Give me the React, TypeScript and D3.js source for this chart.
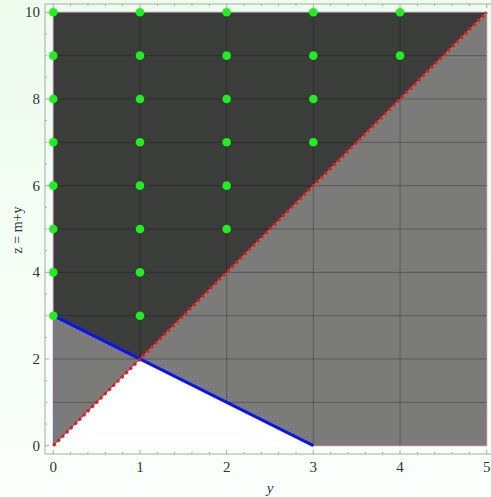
import React from "react";
import * as d3 from "d3";

const yTicks = [0, 1, 2, 3, 4, 5];
const zTicks = [0, 2, 4, 6, 8, 10];
const gridY = [1, 2, 3, 4];
const gridZ = [1, 2, 3, 4, 5, 6, 7, 8, 9];

const pointY = [
  0, 0, 0, 0, 0, 0, 0, 0,
  1, 1, 1, 1, 1, 1, 1, 1,
  2, 2, 2, 2, 2, 2,
  3, 3, 3, 3,
  4, 4,
];
const pointZ = [
  3, 4, 5, 6, 7, 8, 9, 10,
  3, 4, 5, 6, 7, 8, 9, 10,
  5, 6, 7, 8, 9, 10,
  7, 8, 9, 10,
  9, 10,
];

const darkRegion: [number, number][] = [[0, 3], [1, 2], [5, 10], [0, 10]];
const grayLeft: [number, number][] = [[0, 0], [0, 3], [1, 2]];
const grayRight: [number, number][] = [[1, 2], [3, 0], [5, 0], [5, 10]];
const blueLine: [number, number][] = [[0, 3], [3, 0]];
const redLine: [number, number][] = [[0, 0], [5, 10]];

const W = 491;
const H = 497;

export default function App() {
  const x = d3.scaleLinear().domain([0, 5]).range([53.3, 486.7]);
  const z = d3.scaleLinear().domain([0, 10]).range([445.7, 12.3]);
  const line = d3.line<[number, number]>().x((d) => x(d[0])).y((d) => z(d[1]));
  const poly = (p: [number, number][]) => line(p)! + "Z";

  const frameL = 45, frameR = 495, frameT = 4, frameB = 454;
  const xMinor = d3.range(0, 5.001, 0.2).filter((v) => Math.abs(v - Math.round(v)) > 1e-6);
  const zMinor = d3.range(0, 10.001, 0.5).filter((v) => Math.abs(v / 2 - Math.round(v / 2)) > 1e-6);
  const serif = "'Liberation Serif', 'DejaVu Serif', serif";
  const frameColor = "#a8aaa8";

  return (
    <svg width={W} height={H} style={{ position: "absolute", left: 0, top: 0 }}>
      <defs>
        <linearGradient id="bg" x1="0" y1="0" x2="0" y2="1">
          <stop offset="0" stopColor="#eefcee" />
          <stop offset="1" stopColor="#fbfffb" />
        </linearGradient>
        <clipPath id="shade">
          <path d={poly(darkRegion)} />
          <path d={poly(grayLeft)} />
          <path d={poly(grayRight)} />
        </clipPath>
      </defs>
      <rect x={0} y={0} width={W} height={H} fill="url(#bg)" />
      <rect x={x(0)} y={z(10)} width={x(5) - x(0)} height={z(0) - z(10)} fill="#ffffff" />
      {/* regions */}
      <path d={poly(grayLeft)} fill="#7b7c79" stroke="#6a6aa0" strokeWidth={1} />
      <path d={poly(grayRight)} fill="#7b7c79" stroke="#b07898" strokeWidth={1} />
      <path d={poly(darkRegion)} fill="#3b3d3b" stroke="#9a7890" strokeWidth={1} />
      {/* grid clipped to regions */}
      <g clipPath="url(#shade)" stroke="#000" strokeOpacity={0.28} strokeWidth={1}>
        {gridY.map((v) => (
          <line key={"gy" + v} x1={x(v)} x2={x(v)} y1={z(0)} y2={z(10)} />
        ))}
        {gridZ.map((v) => (
          <line key={"gz" + v} x1={x(0)} x2={x(5)} y1={z(v)} y2={z(v)} />
        ))}
      </g>
      {/* lines */}
      <path d={line(blueLine)!} fill="none" stroke="#0a14f0" strokeWidth={3} />
      <path d={line(redLine)!} fill="none" stroke="#ff1010" strokeWidth={3} strokeDasharray="3,3" />
      {/* points */}
      {pointY.map((py, i) => (
        <circle key={"p" + i} cx={x(py)} cy={z(pointZ[i])} r={4.3} fill="#1ef01e" />
      ))}
      {/* frame */}
      <g stroke={frameColor} strokeWidth={1} fill="none">
        <line x1={frameL} x2={frameR} y1={frameB} y2={frameB} />
        <line x1={frameL} x2={frameR} y1={frameT} y2={frameT} />
        <line x1={frameL} x2={frameL} y1={frameT} y2={frameB} />
        <line x1={frameR} x2={frameR} y1={frameT} y2={frameB} />
        {yTicks.map((v) => (
          <g key={"xt" + v}>
            <line x1={x(v)} x2={x(v)} y1={frameB} y2={frameB - 4} />
            <line x1={x(v)} x2={x(v)} y1={frameT} y2={frameT + 4} />
          </g>
        ))}
        {xMinor.map((v, i) => (
          <g key={"xm" + i}>
            <line x1={x(v)} x2={x(v)} y1={frameB} y2={frameB - 2} />
            <line x1={x(v)} x2={x(v)} y1={frameT} y2={frameT + 2} />
          </g>
        ))}
        {zTicks.map((v) => (
          <line key={"zt" + v} x1={frameL} x2={frameL + 4} y1={z(v)} y2={z(v)} />
        ))}
        {zMinor.map((v, i) => (
          <line key={"zm" + i} x1={frameL} x2={frameL + 2} y1={z(v)} y2={z(v)} />
        ))}
      </g>
      {/* tick labels */}
      <g fontFamily={serif} fontSize={15} fill="#333">
        {yTicks.map((v) => (
          <text key={"xl" + v} x={x(v)} y={472} textAnchor="middle">
            {v}
          </text>
        ))}
        {zTicks.map((v) => (
          <text key={"zl" + v} x={40} y={z(v) + 5} textAnchor="end">
            {v}
          </text>
        ))}
      </g>
      <text x={270} y={493} fontFamily={serif} fontSize={15} fontStyle="italic" fill="#333" textAnchor="middle">
        y
      </text>
      <text
        transform={`translate(22,230) rotate(-90)`}
        fontFamily={serif}
        fontSize={14}
        fill="#333"
        textAnchor="middle"
      >
        z = m+y
      </text>
    </svg>
  );
}
